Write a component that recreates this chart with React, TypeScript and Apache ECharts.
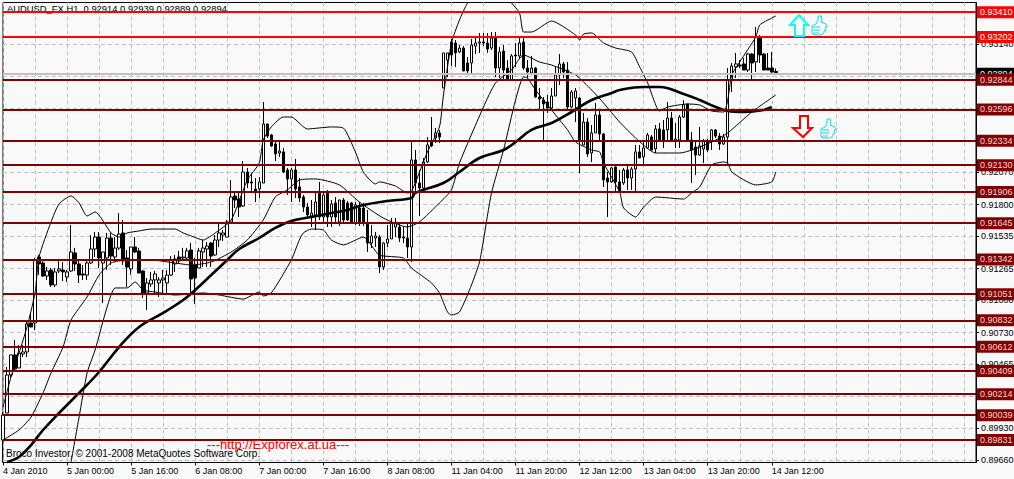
import React, { useEffect, useRef } from "react";
import * as echarts from "echarts";

const titleText = "AUDUSD_FX,H1  0.92914 0.92939 0.92889 0.92894";
const copyrightText = "Broco Investor, © 2001-2008 MetaQuotes Software Corp.";
const siteText = "---http://Expforex.at.ua---";

const timeLabels = ["4 Jan 2010","5 Jan 00:00","5 Jan 16:00","6 Jan 08:00","7 Jan 00:00","7 Jan 16:00","8 Jan 08:00","11 Jan 04:00","11 Jan 20:00","12 Jan 12:00","13 Jan 04:00","13 Jan 20:00","14 Jan 12:00"];
const priceTicks = [0.8966,0.8993,0.90195,0.90465,0.9073,0.91,0.91265,0.91535,0.918,0.9207,0.92335,0.92605,0.9287,0.9314];
const redLevels = [0.9341,0.93202];
const maroonLevels = [0.92844,0.92596,0.92334,0.9213,0.91906,0.91645,0.91342,0.91051,0.90832,0.90612,0.90409,0.90214,0.90039,0.89831];
const bidPrice = 0.92894;

// Hourly bars, in points (price x 100000): open, high, low, close
const hourlyBars = [
[89831,90065,89647,90040],[90057,90442,90057,90375],[90375,90543,90350,90543],[90543,90668,90417,90425],[90434,90626,90434,90559],[90551,90626,90526,90568],[90568,90835,90526,90802],[90810,90894,90777,90777],
[90810,91354,90752,91337],[91362,91379,91211,91304],[91312,91337,91195,91203],[91203,91279,91170,91245],[91253,91270,91111,91128],[91128,91270,91111,91237],[91245,91337,91228,91262],[91253,91320,91161,91237],
[91195,91253,91153,91237],[91245,91630,91237,91404],[91396,91438,91245,91304],[91304,91337,91145,91211],[91220,91295,91170,91211],[91211,91337,91170,91312],[91312,91546,91304,91429],[91429,91571,91362,91529],
[91529,91571,91270,91354],[91312,91404,90977,91404],[91354,91563,91253,91521],[91521,91563,91295,91370],[91362,91529,91320,91437],[91437,91730,91421,91554],[91563,91672,91295,91329],[91354,91421,91111,91278],
[91262,91446,91211,91446],[91446,91529,91396,91404],[91412,91438,91228,91228],[91245,91253,91019,91061],[91061,91186,90919,91145],[91136,91237,91111,91170],[91170,91245,91061,91220],[91145,91195,91028,91170],
[91170,91253,91061,91186],[91145,91253,91061,91211],[91211,91370,91203,91337],[91304,91379,91237,91345],[91362,91413,91304,91329],[91354,91438,91337,91362],[91354,91438,91337,91413],[91421,91479,91061,91178],
[91295,91354,90969,91186],[91270,91438,91270,91413],[91404,91504,91279,91437],[91429,91487,91279,91454],[91479,91487,91279,91370],[91379,91546,91370,91504],[91504,91655,91446,91563],[91546,91588,91496,91563],
[91529,91672,91529,91655],[91655,92006,91655,91864],[91872,91906,91772,91839],[91847,91906,91697,91780],[91789,92165,91780,92073],[92073,92107,91939,91981],[91990,92065,91898,91981],[91931,92023,91822,91914],
[91931,92031,91856,91990],[91981,92659,91981,92475],[92475,92475,92358,92374],[92383,92391,92282,92291],[92307,92341,92165,92224],[92232,92324,92199,92249],[92241,92274,92065,92073],[92090,92107,91881,92015],
[92015,92107,91822,92090],[92090,92182,91856,91931],[91948,92023,91822,91856],[91864,91881,91739,91780],[91780,91814,91697,91714],[91705,91839,91613,91730],[91714,91898,91588,91822],[91898,91990,91672,91697],
[91697,91906,91655,91881],[91898,91923,91613,91697],[91697,91839,91613,91806],[91814,91864,91646,91697],[91655,91839,91621,91839],[91839,91856,91646,91672],[91814,91831,91663,91672],[91814,91822,91638,91655],
[91646,91822,91630,91797],[91772,91822,91621,91655],[91772,91814,91621,91646],[91646,91755,91404,91479],[91479,91630,91437,91538],[91521,91571,91446,91538],[91529,91546,91228,91279],[91279,91488,91253,91479],
[91479,91630,91446,91513],[91513,91688,91513,91646],[91613,91688,91529,91646],[91613,91646,91488,91521],[91529,91613,91479,91521],[91521,91646,91354,91446],[91446,92324,91320,92174],[92174,92257,91906,91981],
[91981,92090,91705,91939],[91939,92190,91906,92157],[92157,92366,92148,92299],[92324,92533,92282,92291],[92358,92441,92316,92400],[92400,92425,92316,92366],[92776,93069,92776,93069],[93010,93069,92868,93069],
[93161,93186,92960,93052],[93152,93177,92952,93069],[93077,93136,93069,93110],[93110,93127,92918,92918],[92985,93035,92885,92918],[92985,93186,92901,93136],[93127,93194,93060,93152],[93152,93236,93069,93161],
[93161,93236,93127,93152],[93152,93236,93069,93102],[93110,93244,93094,93194],[93194,93244,92868,92943],[92943,93119,92860,93077],[93085,93136,92843,92926],[92943,93010,92843,92843],[92843,93060,92843,93044],
[93052,93152,92952,93044],[93044,93194,93027,93152],[93161,93194,92926,92943],[92943,93010,92860,92910],[92901,93044,92893,92943],[92943,92952,92692,92700],[92700,92776,92592,92684],[92675,92700,92341,92642],
[92659,92717,92567,92608],[92608,92776,92592,92709],[92709,92952,92709,92885],[92885,93060,92801,92977],[92977,92994,92860,92910],[92926,92994,92592,92617],[92617,92759,92608,92742],[92692,92776,92491,92751],
[92692,92700,92065,92341],[92299,92567,92299,92491],[92491,92525,92199,92224],[92232,92466,92157,92400],[92400,92650,92400,92550],[92550,92592,92341,92391],[92391,92400,91948,92006],[92023,92073,91697,91990],
[91990,92115,91981,92107],[92115,92132,91914,91990],[91990,92090,91914,91914],[91981,92107,91965,92090],[92090,92132,91923,92023],[92023,92115,91923,92098],[92098,92299,91898,92241],[92241,92299,92190,92190],
[92199,92341,92132,92274],[92274,92400,92266,92383],[92366,92383,92257,92257],[92266,92466,92232,92433],[92433,92483,92324,92341],[92425,92508,92274,92341],[92425,92659,92341,92525],[92525,92575,92324,92341],
[92333,92483,92274,92349],[92341,92550,92274,92533],[92533,92675,92525,92634],[92642,92642,92341,92341],[92341,92408,91981,92257],[92282,92324,92048,92215],[92215,92450,92207,92291],[92266,92349,92148,92333],
[92333,92349,92241,92257],[92333,92433,92257,92425],[92425,92433,92358,92374],[92374,92400,92257,92307],[92307,92391,92299,92366],[92366,92943,92132,92843],[92843,92985,92742,92960],[92952,93069,92860,92977],
[92968,93010,92943,92960],[92977,93027,92926,92926],[92926,93069,92910,93060],[93060,93069,92851,92985],[92994,93286,92910,93202],[93202,93219,92985,93052],[93060,93069,92926,92926],[92943,93069,92926,92926],
[92943,93077,92901,92910],[92914,92939,92889,92894],
];

// Indicators as [bar number, points], read at the visible bends of each curve
const movingAverage = [[1,89647],[4,89689],[7,89789],[10,89915],[14,90057],[19,90225],[24,90400],[29,90609],[34,90777],[40,90894],[45,91002],[48,91086],[52,91211],[56,91337],[59,91429],[64,91521],[68,91605],[72,91663],[77,91697],[82,91730],[86,91755],[90,91797],[96,91831],[102,91856],[103,91898],[110,91981],[114,92073],[119,92190],[125,92257],[128,92324],[132,92425],[137,92483],[142,92575],[147,92675],[152,92734],[154,92759],[160,92784],[164,92784],[170,92726],[174,92675],[178,92617],[181,92583],[185,92575],[190,92592],[192,92617]];
const upperBand = [[0,90107],[2,90358],[4,90559],[6,90777],[8,91061],[9,91362],[12,91655],[14,91806],[17,91873],[19,91814],[21,91705],[23,91739],[27,91563],[29,91529],[31,91563],[34,91580],[37,91596],[43,91596],[45,91563],[47,91538],[50,91504],[53,91563],[57,91672],[61,92006],[64,92148],[65,92341],[67,92450],[70,92533],[72,92533],[76,92433],[82,92450],[85,92441],[88,92241],[90,92073],[93,91973],[94,91990],[98,91956],[101,91898],[102,91906],[106,92241],[109,92450],[110,92717],[112,93152],[114,93345],[116,93487],[119,93637],[123,93637],[127,93487],[129,93403],[130,93244],[132,93244],[137,93336],[143,93219],[144,93177],[145,93227],[147,93236],[150,93152],[153,93110],[157,93077],[159,92952],[161,92818],[164,92583],[166,92617],[171,92642],[174,92634],[177,92583],[180,92575],[181,92675],[182,92885],[184,92994],[188,93203],[189,93303],[192,93361],[193,93378]];
const middleBand = [[0,89831],[4,89915],[7,90023],[10,90225],[12,90392],[15,90609],[17,90835],[21,91028],[24,91211],[27,91312],[31,91337],[37,91337],[43,91312],[47,91295],[52,91320],[57,91404],[61,91504],[65,91672],[68,91864],[71,91923],[74,92006],[78,92015],[84,91965],[89,91822],[95,91688],[101,91613],[104,91655],[109,91814],[112,91923],[114,92148],[120,92617],[123,92818],[127,92926],[130,93052],[134,92993],[137,92968],[143,92885],[147,92759],[150,92650],[154,92491],[158,92358],[163,92232],[169,92232],[177,92324],[181,92400],[187,92575],[193,92717]];
const lowerBand = [[17,89647],[19,90023],[21,90392],[23,90584],[26,90944],[28,91103],[31,91103],[33,91153],[35,91086],[38,91069],[43,91044],[50,91061],[54,91044],[60,91010],[64,91069],[65,91036],[67,91061],[72,91337],[74,91504],[75,91563],[77,91596],[80,91588],[82,91504],[85,91463],[90,91529],[94,91379],[100,91354],[102,91270],[107,91145],[109,91061],[111,90902],[112,90877],[114,90902],[117,91128],[119,91320],[120,91504],[122,91898],[125,92257],[128,92675],[130,92868],[131,92860],[133,92759],[137,92592],[141,92425],[143,92324],[147,92257],[149,92241],[150,92148],[154,91906],[155,91772],[158,91697],[160,91780],[163,91864],[170,91847],[172,91898],[174,91948],[177,92132],[180,92157],[181,92148],[182,92073],[188,91965],[192,91990],[193,92073]];

const toPrice = (points: number) => points / 100000;
const barCount = 244;
const labelStep = 16;
const gridStep = 8;
const categories = Array.from({ length: barCount }, (_, i) => timeLabels[i / labelStep] ?? `bar ${i}`);
const uiFont = '"Liberation Sans"';

const thumbPath = "M5 9 L7 5 L7 1 L10 1 L11 4 L10 7 L15 9 L16 11 L14 13 L15 15 L13 16 L13 18 L10 20 L3 20 L1 18 L1 11 Z M2 12 L9 12 M2 15 L9 15 M3 18 L8 18";

const lineSeries = (name: string, data: number[][], width: number, smooth: number) => ({
  name, type: "line", data: data.map(([i, p]) => [i, toPrice(p)]), showSymbol: false, symbol: "none",
  connectNulls: true, z: 3, silent: true, smooth, lineStyle: { color: "#000", width }, clip: true,
});

const levelLine = (value: number, line: string, bg: string, fg: string) => ({
  yAxis: value,
  lineStyle: { color: line, width: 2, type: "solid" },
  label: { show: true, position: "end", distance: 1, formatter: value.toFixed(5), color: fg, backgroundColor: bg, fontFamily: uiFont, fontSize: 9, padding: [2, 4, 1, 3], align: "left" },
});

export default function App() {
  const ref = useRef<HTMLDivElement>(null);
  useEffect(() => {
    document.body.style.margin = "0";
    document.body.style.overflow = "hidden";
    echarts.graphic.registerShape("thumb", echarts.graphic.extendPath(thumbPath, {}));
    const chart = echarts.init(ref.current!, null, { renderer: "svg" });
    chart.setOption({
      animation: false,
      backgroundColor: "#f9f9f9",
      grid: { left: 3, top: 2.5, width: 973, height: 460, show: true, borderColor: "#000", borderWidth: 1, backgroundColor: "transparent", outerBoundsMode: "none" },
      xAxis: {
        type: "category", data: categories, boundaryGap: false,
        axisLine: { show: true, onZero: false, lineStyle: { color: "#000", width: 1 } },
        axisTick: { show: true, length: 3, alignWithLabel: true, interval: (i: number) => i % labelStep === 0 && i / labelStep < timeLabels.length, lineStyle: { color: "#000" } },
        axisLabel: { show: true, interval: (i: number) => i % labelStep === 0 && i / labelStep < timeLabels.length, align: "left", margin: 4, color: "#000", fontFamily: uiFont, fontSize: 9, hideOverlap: false },
        splitLine: { show: true, interval: (i: number) => i % gridStep === 0, lineStyle: { color: "#c0c0c0", type: [4, 3], width: 1 } },
      },
      yAxis: {
        type: "value", position: "right", min: 0.89643, max: 0.93491, scale: true,
        axisLine: { show: true, onZero: false, lineStyle: { color: "#000", width: 1 } },
        axisTick: { show: true, length: 3, customValues: priceTicks, lineStyle: { color: "#000" } },
        axisLabel: { show: true, customValues: priceTicks, margin: 5, color: "#000", fontFamily: uiFont, fontSize: 9, formatter: (v: number) => v.toFixed(5) },
        splitLine: { show: true, lineStyle: { color: "#c0c0c0", type: [4, 3], width: 1 } },
      },
      series: [
        {
          name: "AUDUSD", type: "candlestick", z: 2, barWidth: 3, silent: true,
          data: hourlyBars.map(([o, h, l, c]) => [o, c, l, h].map(toPrice)),
          itemStyle: { color: "#fff", color0: "#000", borderColor: "#000", borderColor0: "#000", borderWidth: 1 },
        },
        lineSeries("Upper band", upperBand, 1, 0.2),
        lineSeries("Middle band", middleBand, 1, 0.2),
        lineSeries("Lower band", lowerBand, 1, 0.2),
        lineSeries("Moving average", movingAverage, 2.6, 0.4),
        {
          name: "Levels", type: "line", data: [], z: 5, silent: true,
          markLine: {
            silent: true, symbol: "none", animation: false, precision: 5,
            data: [
              levelLine(bidPrice, "#c0c0c0", "#000", "#fff"),
              ...maroonLevels.map((v) => levelLine(v, "#800000", "#800000", "#f4d8d8")),
              ...redLevels.map((v) => levelLine(v, "#ff0000", "#ff0000", "#fff")),
            ],
          },
        },
      ],
      graphic: [
        { type: "text", x: 7, y: 4, z: 1, style: { text: titleText, fill: "#000", font: `9.4px ${uiFont}` } },
        { type: "text", x: 6, y: 448, z: 6, style: { text: copyrightText, fill: "#000", font: `10px ${uiFont}` } },
        { type: "text", x: 207, y: 438, z: 6, style: { text: siteText, fill: "#ff0000", font: '13px "Liberation Sans"' } },
        { type: "polygon", z: 6, shape: { points: [[799, 15], [808, 25], [804, 25], [804, 36], [795, 36], [795, 25], [790, 25]] }, style: { fill: "#fff", stroke: "#00ffff", lineWidth: 2 } },
        { type: "polygon", z: 6, shape: { points: [[800, 116], [808, 116], [808, 128], [812, 128], [803, 137], [793, 128], [800, 128]] }, style: { fill: "#fff", stroke: "#ff0000", lineWidth: 2 } },
        { type: "thumb", x: 811, y: 15, z: 6, style: { fill: "none", stroke: "#00e0f0", lineWidth: 1 } },
        { type: "thumb", x: 820, y: 118, z: 6, style: { fill: "none", stroke: "#00e0f0", lineWidth: 1 } },
      ],
    });
    return () => chart.dispose();
  }, []);
  return <div ref={ref} style={{ width: 1014, height: 479 }} />;
}
